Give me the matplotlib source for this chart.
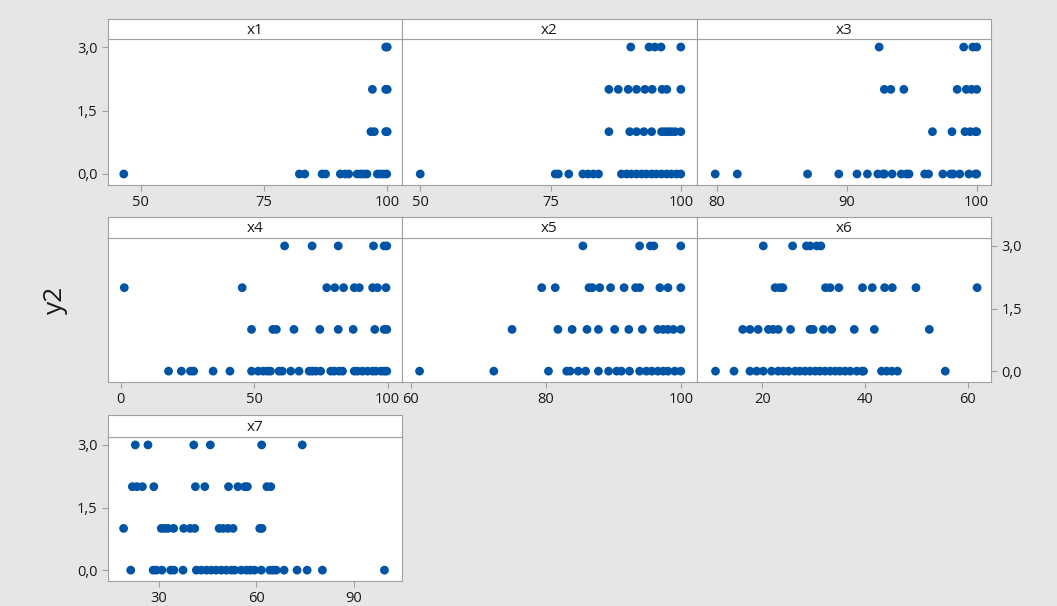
import numpy as np
import matplotlib
matplotlib.use('Agg')
import matplotlib.pyplot as plt
from matplotlib.ticker import FuncFormatter

plt.rcParams['font.family'] = ['Open Sans', 'DejaVu Sans']

# x values of the points for each level of y2 (0, 1, 2, 3)
x1 = {0: [46.6, 82.2, 83.3, 86.8, 87.5, 90.5, 91.5, 92.2, 93.9, 94.6, 95.2, 95.9, 98.0, 98.6, 99.3, 99.9],
      1: [96.7, 97.4, 99.7, 100.0],
      2: [97.0, 99.7, 100.0],
      3: [99.7, 100.0]}
x2 = {0: [50.0, 75.9, 76.5, 78.5, 81.2, 82.2, 83.2, 84.2, 88.6, 89.6, 90.5, 91.5, 92.5, 93.4,
          94.4, 95.3, 96.3, 97.3, 98.2, 99.2, 100.0],
      1: [86.2, 90.2, 91.5, 92.9, 94.4, 96.3, 96.9, 97.6, 98.2, 98.9, 100.0],
      2: [86.2, 88.0, 89.9, 91.5, 93.1, 94.5, 96.4, 97.3, 100.0],
      3: [90.4, 93.9, 95.0, 96.2, 100.0]}
x3 = {0: [79.9, 81.6, 87.0, 89.4, 90.8, 91.6, 92.4, 92.8, 92.9, 93.5, 94.2, 94.6, 94.8, 96.0,
          96.3, 97.4, 98.0, 98.2, 98.7, 99.4, 99.9, 100.0],
      1: [96.6, 98.1, 99.1, 99.5, 99.9, 100.0],
      2: [92.9, 93.4, 94.4, 98.5, 99.2, 99.6, 100.0],
      3: [92.5, 99.0, 99.7, 100.0]}
x4 = {0: [17.9, 22.7, 26.1, 27.3, 34.6, 40.9, 49.0, 51.5, 53.4, 54.9, 56.1, 59.3, 60.5, 63.7,
          66.8, 70.6, 71.8, 73.1, 74.9, 78.7, 80.0, 81.8, 83.1, 87.5, 88.7, 90.6, 92.5, 94.4,
          95.6, 97.5, 98.7, 99.7],
      1: [49.0, 57.0, 58.3, 64.9, 74.6, 81.5, 87.1, 95.2, 98.7, 99.7],
      2: [1.3, 45.5, 77.2, 80.2, 83.5, 87.5, 89.4, 94.4, 96.2, 99.4],
      3: [61.4, 71.7, 81.5, 94.7, 98.7, 99.7]}
x5 = {0: [61.3, 72.3, 80.4, 83.1, 83.6, 84.8, 85.9, 87.8, 89.3, 90.5, 91.2, 92.4, 93.9, 94.9,
          95.7, 96.6, 97.4, 98.1, 99.1, 100.0],
      1: [75.0, 81.8, 83.9, 86.1, 87.8, 90.2, 92.3, 94.3, 96.6, 97.4, 98.1, 98.9, 100.0],
      2: [79.4, 81.4, 86.4, 86.9, 88.0, 89.6, 91.6, 93.3, 93.9, 96.9, 98.1, 100.0],
      3: [85.5, 93.9, 95.5, 96.0, 100.0]}
x6 = {0: [10.9, 14.5, 17.6, 18.9, 20.2, 21.8, 23.1, 24.1, 25.1, 26.4, 27.3, 28.3, 29.3, 30.3,
          31.2, 32.2, 33.2, 34.2, 35.1, 36.1, 37.1, 38.4, 39.4, 39.7, 43.2, 44.2, 45.2, 46.3, 55.6],
      1: [16.2, 17.6, 19.2, 21.2, 22.1, 23.1, 25.5, 29.3, 29.9, 31.9, 33.5, 37.9, 41.8, 52.5],
      2: [22.5, 23.4, 24.0, 32.3, 33.2, 34.9, 39.5, 41.4, 43.8, 45.3, 49.9, 61.8],
      3: [20.2, 25.9, 28.6, 29.3, 30.6, 31.4]}
x7 = {0: [21.4, 28.3, 29.3, 31.0, 33.7, 34.7, 37.5, 41.6, 43.1, 44.7, 46.2, 47.7, 49.3, 50.8,
          52.4, 53.4, 55.4, 57.0, 58.2, 59.5, 61.6, 64.2, 65.2, 66.2, 68.6, 72.6, 75.7, 80.4, 99.5],
      1: [19.2, 30.8, 31.8, 32.9, 34.6, 37.7, 39.7, 41.1, 48.6, 49.8, 51.3, 52.9, 61.1, 61.8],
      2: [21.9, 23.3, 25.0, 28.5, 41.3, 44.2, 51.5, 54.4, 56.5, 57.3, 63.3, 64.5],
      3: [22.8, 26.7, 40.8, 45.9, 61.7, 74.2]}

names = ['x1', 'x2', 'x3', 'x4', 'x5', 'x6', 'x7']
panels = [x1, x2, x3, x4, x5, x6, x7]
xticks = [[50, 75, 100], [50, 75, 100], [80, 90, 100], [0, 50, 100],
          [60, 80, 100], [20, 40, 60], [30, 60, 90]]
xlims = [(43.4, 103.0), (46.5, 103.1), (78.5, 101.1), (-4.8, 105.4),
         (58.7, 102.4), (7.3, 64.5), (14.4, 104.9)]
yticks = [0, 1.5, 3.0]

W, H = 1057, 606
fig = plt.figure(figsize=(W / 100, H / 100), dpi=100)
fig.patch.set_facecolor('#e6e6e6')

edge = '#a0a0a0'
dot = '#0054a6'
cols = [(108, 402), (402, 697), (697, 991)]
rows = [(19, 39, 185), (217, 238, 382), (415, 437, 581)]  # header top, plot top, plot bottom

comma = FuncFormatter(lambda v, p: ('%.1f' % v).replace('.', ','))

for i, (name, data) in enumerate(zip(names, panels)):
    r, c = divmod(i, 3)
    x0, x1p = cols[c]
    ht, pt, pb = rows[r]
    ax = fig.add_axes([x0 / W, 1 - pb / H, (x1p - x0) / W, (pb - pt) / H])
    hx = fig.add_axes([x0 / W, 1 - pt / H, (x1p - x0) / W, (pt - ht) / H])
    for lvl in [0, 1, 2, 3]:
        xs = data[lvl]
        ax.scatter(xs, [lvl] * len(xs), s=40, color=dot, edgecolors='none', zorder=3)
    ax.set_xlim(*xlims[i])
    ax.set_ylim(-0.26, 3.19)
    ax.set_xticks(xticks[i])
    ax.set_yticks(yticks)
    ax.yaxis.set_major_formatter(comma)
    ax.tick_params(colors=edge, labelcolor='#1a1a1a', labelsize=10.5, length=4, width=0.8)
    if c == 0 and r != 1:
        ax.tick_params(axis='y', left=True, labelleft=True)
    elif i == 5:
        ax.yaxis.tick_right()
        ax.tick_params(axis='y', right=True, labelright=True)
    else:
        ax.tick_params(axis='y', left=False, labelleft=False)
    for s in ax.spines.values():
        s.set_color(edge)
        s.set_linewidth(0.8)
    hx.set_xticks([])
    hx.set_yticks([])
    for s in hx.spines.values():
        s.set_color(edge)
        s.set_linewidth(0.8)
    hx.text(0.5, 0.45, name, ha='center', va='center', fontsize=11, color='#1a1a1a')

fig.text(55 / W, 1 - 300 / H, 'y2', rotation=90, ha='center', va='center', fontsize=19, color='#1a1a1a')

fig.savefig('out.png', dpi=100, facecolor=fig.get_facecolor())
